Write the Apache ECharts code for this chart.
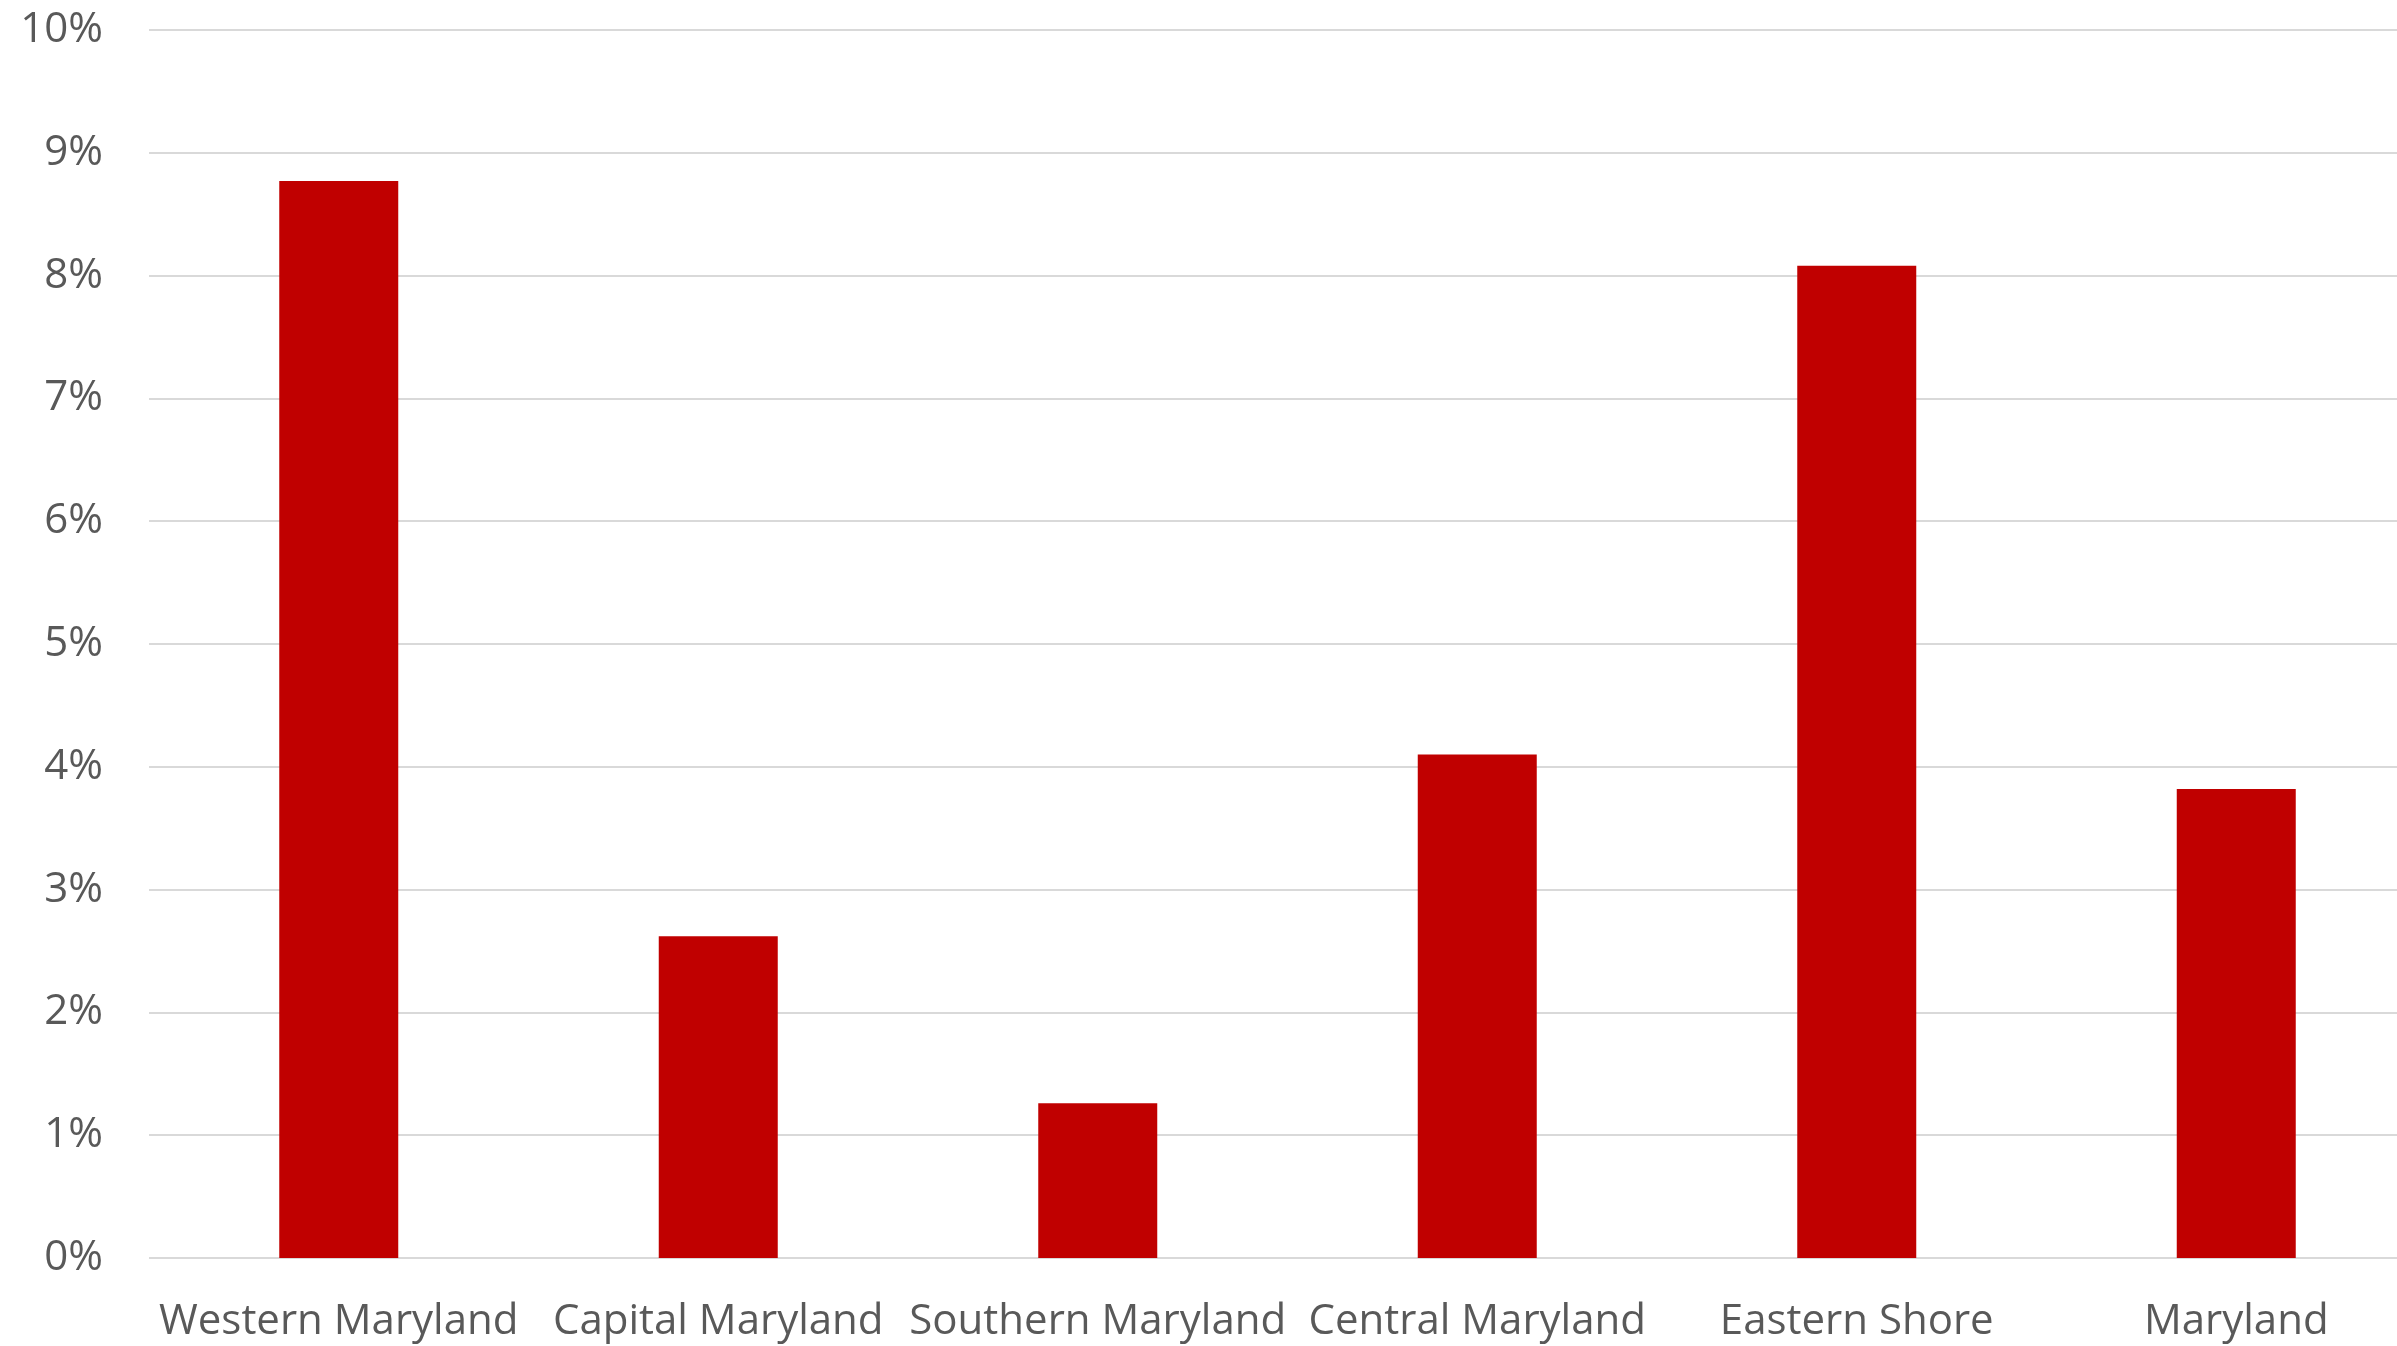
<!DOCTYPE html>
<html>
<head>
<meta charset="utf-8">
<script src="https://cdn.jsdelivr.net/npm/echarts@6/dist/echarts.min.js"></script>
<style>
html,body{margin:0;padding:0;background:#fff;overflow:hidden;width:2397px;height:1346px;}
#chart{width:2426px;height:1346px;}
</style>
</head>
<body>
<div id="chart"></div>
<script>
const categories = ['Western Maryland', 'Capital Maryland', 'Southern Maryland', 'Central Maryland', 'Eastern Shore', 'Maryland'];
const values = [8.77, 2.62, 1.26, 4.10, 8.08, 3.82];

const chart = echarts.init(document.getElementById('chart'));
chart.setOption({
  animation: false,
  backgroundColor: '#ffffff',
  grid: { left: 149, right: 0, top: 30, bottom: 88, containLabel: false },
  xAxis: {
    type: 'category',
    data: categories,
    axisLine: { show: false },
    axisTick: { show: false },
    axisLabel: { interval: 0, color: '#595959', fontFamily: 'Open Sans', fontSize: 42, margin: 43 }
  },
  yAxis: {
    type: 'value',
    min: 0, max: 10, interval: 1,
    axisLine: { show: false },
    axisTick: { show: false },
    axisLabel: { color: '#595959', fontFamily: 'Open Sans', fontSize: 42, margin: 46, formatter: '{value}%' },
    splitLine: { lineStyle: { color: '#d9d9d9', width: 2 } }
  },
  series: [{
    type: 'bar',
    data: values,
    barWidth: 119,
    itemStyle: { color: '#C00000' }
  }]
});
</script>
</body>
</html>
